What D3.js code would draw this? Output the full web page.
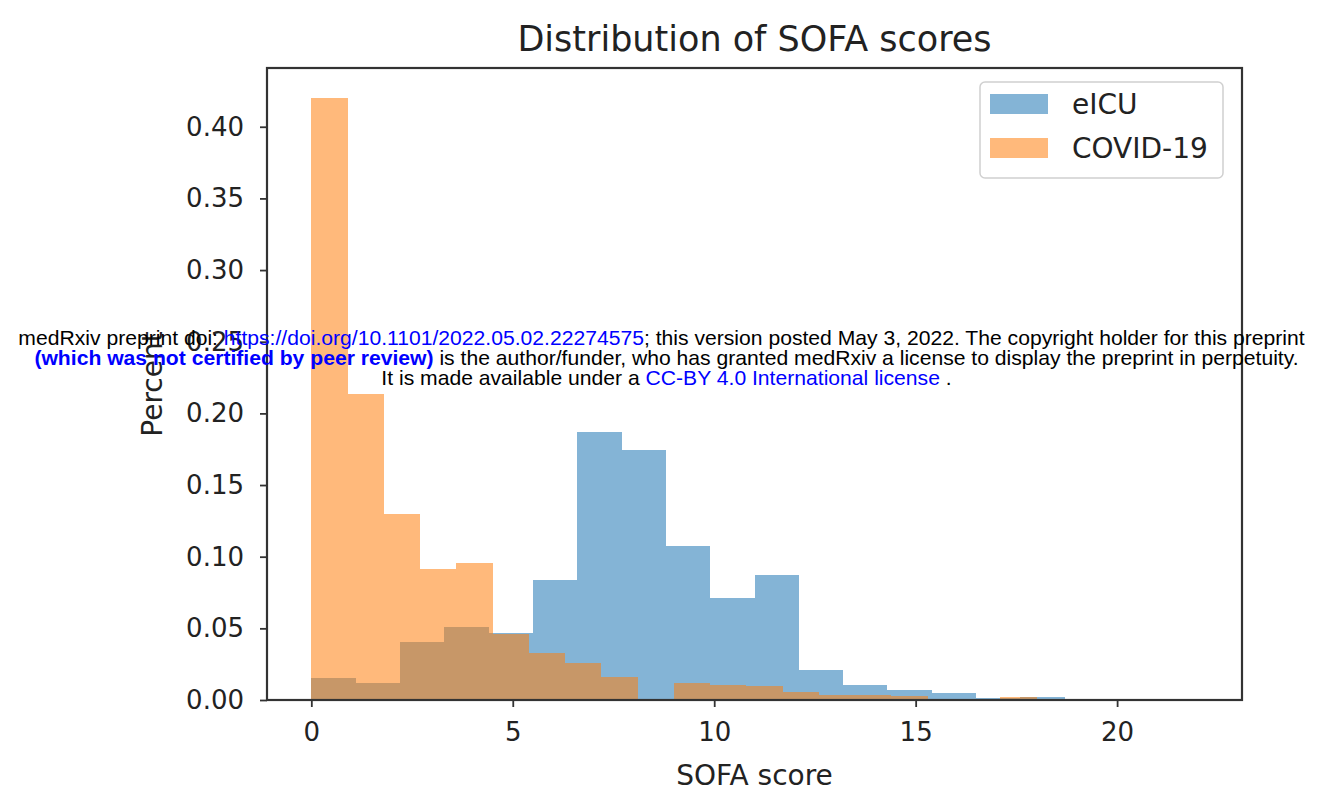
<!DOCTYPE html>
<html>
<head>
<meta charset="utf-8">
<script src="https://cdn.jsdelivr.net/npm/d3@7"></script>
<style>
  html, body { margin: 0; padding: 0; background: #fff; }
  svg { display: block; }
</style>
</head>
<body>
<svg id="chart" width="1323" height="792"></svg>
<script>
// ---- Data ----
const seriesNames = ["eICU", "COVID-19"];
const eicuEdges = [0, 1.1, 2.2, 3.3, 4.4, 5.5, 6.6, 7.7, 8.8, 9.9, 11, 12.1, 13.2, 14.3, 15.4, 16.5, 17.6, 18.7, 19.8, 20.9, 22];
const eicuValues = [0.0153, 0.0121, 0.0407, 0.0512, 0.0470, 0.0838, 0.1870, 0.1746, 0.1078, 0.0714, 0.0873, 0.0210, 0.0105, 0.0068, 0.0048, 0.0015, 0.0022, 0, 0, 0];
const covidEdges = [0, 0.9, 1.8, 2.7, 3.6, 4.5, 5.4, 6.3, 7.2, 8.1, 9, 9.9, 10.8, 11.7, 12.6, 13.5, 14.4, 15.3, 16.2, 17.1, 18];
const covidValues = [0.4200, 0.2137, 0.1300, 0.0915, 0.0955, 0.0462, 0.0326, 0.0260, 0.0163, 0, 0.0121, 0.0105, 0.0100, 0.0058, 0.0035, 0.0032, 0.0028, 0.0010, 0, 0.0022];
const xTicks = [0, 5, 10, 15, 20];
const yTicks = [0.00, 0.05, 0.10, 0.15, 0.20, 0.25, 0.30, 0.35, 0.40];
const titleText = "Distribution of SOFA scores";
const xLabelText = "SOFA score";
const yLabelText = "Percent";

const colors = ["#1f77b4", "#ff7f0e"];
const barOpacity = 0.55;

// ---- Layout ----
const plot = { left: 267, right: 1242, top: 68, bottom: 700 };
const svg = d3.select("#chart");
const font = "'DejaVu Sans', sans-serif";

const x = d3.scaleLinear().domain([-1.1, 23.1]).range([plot.left, plot.right]);
const y = d3.scaleLinear().domain([0, 0.441]).range([plot.bottom, plot.top]);

function binsOf(edges, values) {
  return values.map((v, i) => ({ x0: edges[i], x1: edges[i + 1], v }));
}
const series = [binsOf(eicuEdges, eicuValues), binsOf(covidEdges, covidValues)];

const barsG = svg.append("g");
series.forEach((bins, si) => {
  barsG.append("g")
    .selectAll("rect")
    .data(bins.filter(d => d.v > 0))
    .join("rect")
    .attr("x", d => x(d.x0))
    .attr("width", d => x(d.x1) - x(d.x0))
    .attr("y", d => y(d.v))
    .attr("height", d => y(0) - y(d.v))
    .attr("fill", colors[si])
    .attr("fill-opacity", barOpacity)
    .attr("shape-rendering", "crispEdges");
});

// ---- Axes ----
const xAxis = d3.axisBottom(x).tickValues(xTicks).tickFormat(d3.format("d")).tickSize(7).tickPadding(16);
const yAxis = d3.axisLeft(y).tickValues(yTicks).tickFormat(d3.format(".2f")).tickSize(7).tickPadding(16);

const gx = svg.append("g").attr("transform", `translate(0,${plot.bottom})`).call(xAxis);
const gy = svg.append("g").attr("transform", `translate(${plot.left},0)`).call(yAxis);
[gx, gy].forEach(g => {
  g.select(".domain").remove();
  g.selectAll(".tick line").attr("stroke", "#333").attr("stroke-width", 1.8);
  g.selectAll(".tick text").attr("font-family", font).attr("font-size", 26).attr("fill", "#222");
});

// spines
svg.append("rect")
  .attr("x", plot.left).attr("y", plot.top)
  .attr("width", plot.right - plot.left).attr("height", plot.bottom - plot.top)
  .attr("fill", "none").attr("stroke", "#333").attr("stroke-width", 2.2);

// ---- Titles ----
svg.append("text")
  .attr("x", (plot.left + plot.right) / 2).attr("y", 51)
  .attr("text-anchor", "middle")
  .attr("font-family", font).attr("font-size", 35).attr("fill", "#222")
  .text(titleText);

svg.append("text")
  .attr("x", (plot.left + plot.right) / 2).attr("y", 785)
  .attr("text-anchor", "middle")
  .attr("font-family", font).attr("font-size", 28).attr("fill", "#222")
  .text(xLabelText);

svg.append("text")
  .attr("transform", `translate(162,${(plot.top + plot.bottom) / 2}) rotate(-90)`)
  .attr("text-anchor", "middle")
  .attr("font-family", font).attr("font-size", 28).attr("fill", "#222")
  .text(yLabelText);

// ---- Legend ----
const legend = svg.append("g");
legend.append("rect")
  .attr("x", 980).attr("y", 82).attr("width", 243).attr("height", 96)
  .attr("rx", 5).attr("fill", "#fff").attr("fill-opacity", 0.8)
  .attr("stroke", "#d0d0d0").attr("stroke-width", 1.5);
seriesNames.forEach((name, i) => {
  legend.append("rect")
    .attr("x", 990).attr("y", 94 + i * 44).attr("width", 58).attr("height", 20)
    .attr("fill", colors[i]).attr("fill-opacity", barOpacity);
  legend.append("text")
    .attr("x", 1072).attr("y", 114 + i * 44)
    .attr("font-family", font).attr("font-size", 28).attr("fill", "#222")
    .text(name);
});

// ---- medRxiv watermark ----
const wmFont = "'Liberation Sans', Arial, sans-serif";
const wmLines = [
  { cx: 661.5, y: 345, width: 1287, parts: [
    { t: "medRxiv preprint doi: ", c: "#000" },
    { t: "https://doi.org/10.1101/2022.05.02.22274575", c: "#0000ff" },
    { t: "; this version posted May 3, 2022. The copyright holder for this preprint", c: "#000" } ] },
  { cx: 666.5, y: 365, width: 1277, parts: [
    { t: "(which was not certified by peer review)", c: "#0000ff", b: true },
    { t: " is the author/funder, who has granted medRxiv a license to display the preprint in perpetuity.", c: "#000" } ] },
  { cx: 666.5, y: 385, width: 569, parts: [
    { t: "It is made available under a ", c: "#000" },
    { t: "CC-BY 4.0 International license", c: "#0000ff" },
    { t: " .", c: "#000" } ] }
];
const wmG = svg.append("g");
const wmTexts = wmLines.map(line => {
  const t = wmG.append("text")
    .attr("x", line.cx).attr("y", line.y)
    .attr("text-anchor", "middle")
    .attr("font-family", wmFont).attr("font-size", 17);
  line.parts.forEach(p => {
    t.append("tspan").attr("fill", p.c).attr("font-weight", p.b ? "bold" : "normal").text(p.t);
  });
  return t;
});
// fit first line width
const w0 = wmTexts[0].node().getComputedTextLength();
const fs = 17 * wmLines[0].width / w0;
wmTexts.forEach(t => t.attr("font-size", fs));
</script>
</body>
</html>
